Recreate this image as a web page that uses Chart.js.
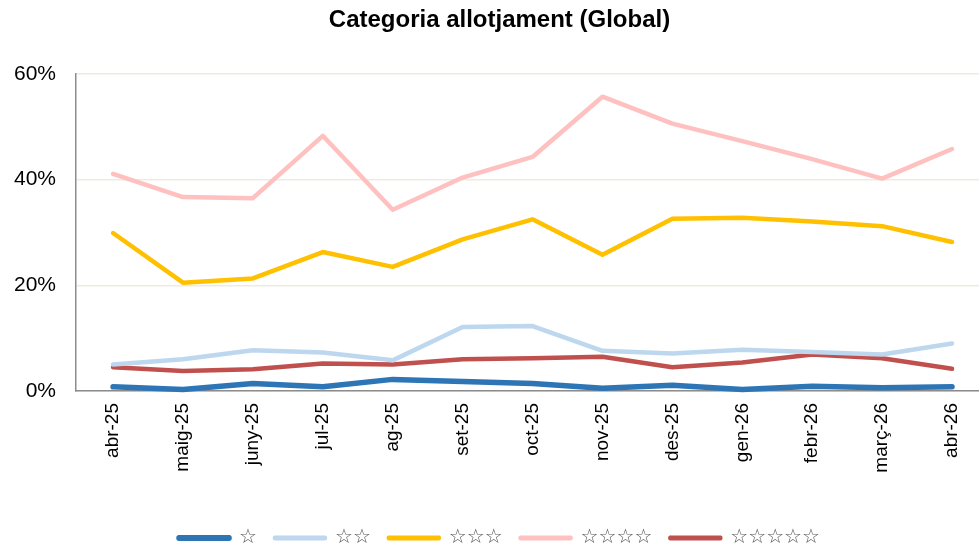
<!DOCTYPE html>
<html>
<head>
<meta charset="utf-8">
<script src="https://cdn.jsdelivr.net/npm/chart.js@4.4.1/dist/chart.umd.min.js"></script>
<style>
  html, body { margin: 0; padding: 0; background: #fff; }
  #wrap { width: 979px; height: 554px; }
</style>
</head>
<body>
<div id="wrap"><canvas id="chart"></canvas></div>
<script>
// months on the x axis
const months = ['abr-25', 'maig-25', 'juny-25', 'jul-25', 'ag-25', 'set-25', 'oct-25',
  'nov-25', 'des-25', 'gen-26', 'febr-26', 'març-26', 'abr-26'];

// share of each hotel category (%)
const star1 = [0.8, 0.3, 1.4, 0.8, 2.2, 1.8, 1.4, 0.5, 1.1, 0.3, 0.9, 0.6, 0.8];
const star2 = [5.0, 6.0, 7.7, 7.3, 5.8, 12.1, 12.3, 7.6, 7.1, 7.8, 7.4, 6.9, 9.0];
const star3 = [29.9, 20.5, 21.3, 26.3, 23.5, 28.7, 32.5, 25.8, 32.6, 32.8, 32.1, 31.2, 28.2];
const star4 = [41.1, 36.7, 36.5, 48.3, 34.3, 40.4, 44.3, 55.7, 50.6, 47.3, 43.9, 40.2, 45.8];
const star5 = [4.5, 3.8, 4.1, 5.2, 5.0, 6.0, 6.2, 6.5, 4.5, 5.4, 6.9, 6.2, 4.2];

const seriesNames = ['☆', '☆☆', '☆☆☆', '☆☆☆☆', '☆☆☆☆☆'];
const yTicks = [0, 20, 40, 60];

const COLORS = ['#2E75B6', '#BDD7EE', '#FFC000', '#FFC0C0', '#C0504D'];
const WIDTHS = [5.5, 4.5, 4.5, 4.5, 4.5];

const toPoints = vals => vals.map((v, i) => ({ x: i, y: v }));

const datasets = [star1, star2, star3, star4, star5].map((vals, i) => ({
  label: seriesNames[i],
  data: toPoints(vals),
  borderColor: COLORS[i],
  backgroundColor: COLORS[i],
  borderWidth: WIDTHS[i],
  pointRadius: 0,
  tension: 0,
  borderCapStyle: 'round',
  borderJoinStyle: 'round',
  clip: false
}));

new Chart(document.getElementById('chart'), {
  type: 'line',
  data: { datasets },
  options: {
    responsive: true,
    maintainAspectRatio: false,
    animation: false,
    // negative right padding nudges title/legend right, chart area still ends at the edge
    layout: { padding: { left: 0, right: -20, top: 0, bottom: -4 } },
    plugins: {
      title: {
        display: true,
        text: 'Categoria allotjament (Global)',
        color: '#000',
        font: { family: 'Liberation Sans, Arial, sans-serif', size: 24, weight: 'bold' },
        padding: { top: 6, bottom: 39.2 }
      },
      legend: {
        position: 'bottom',
        labels: {
          boxWidth: 50,
          boxHeight: 0.5,
          padding: 18,
          useBorderRadius: true,
          borderRadius: 0.5,
          color: '#595959',
          font: { family: 'DejaVu Sans, sans-serif', size: 20, lineHeight: 1 }
        }
      },
      tooltip: { enabled: false }
    },
    scales: {
      x: {
        type: 'linear',
        min: -0.53,
        max: 12.386,
        afterBuildTicks: s => { s.ticks = months.map((_, i) => ({ value: i })); },
        afterFit: s => { s.height = 119; },
        grid: { display: false },
        border: { display: true, color: '#8C8C8C', width: 1.5 },
        ticks: {
          autoSkip: false,
          minRotation: 90,
          maxRotation: 90,
          padding: 4,
          color: '#000',
          font: { family: 'Liberation Sans, Arial, sans-serif', size: 19 },
          callback: v => months[v]
        }
      },
      y: {
        min: 0,
        max: 60,
        afterBuildTicks: s => { s.ticks = yTicks.map(v => ({ value: v })); },
        afterFit: s => { s.width = 76; },
        grid: { color: '#EEECE1', lineWidth: 1.5, drawTicks: false },
        border: { display: true, color: '#8C8C8C', width: 1.5 },
        ticks: {
          padding: 20,
          color: '#000',
          font: { family: 'Liberation Sans, Arial, sans-serif', size: 21 },
          callback: v => v + '%'
        }
      }
    }
  }
});
</script>
</body>
</html>
